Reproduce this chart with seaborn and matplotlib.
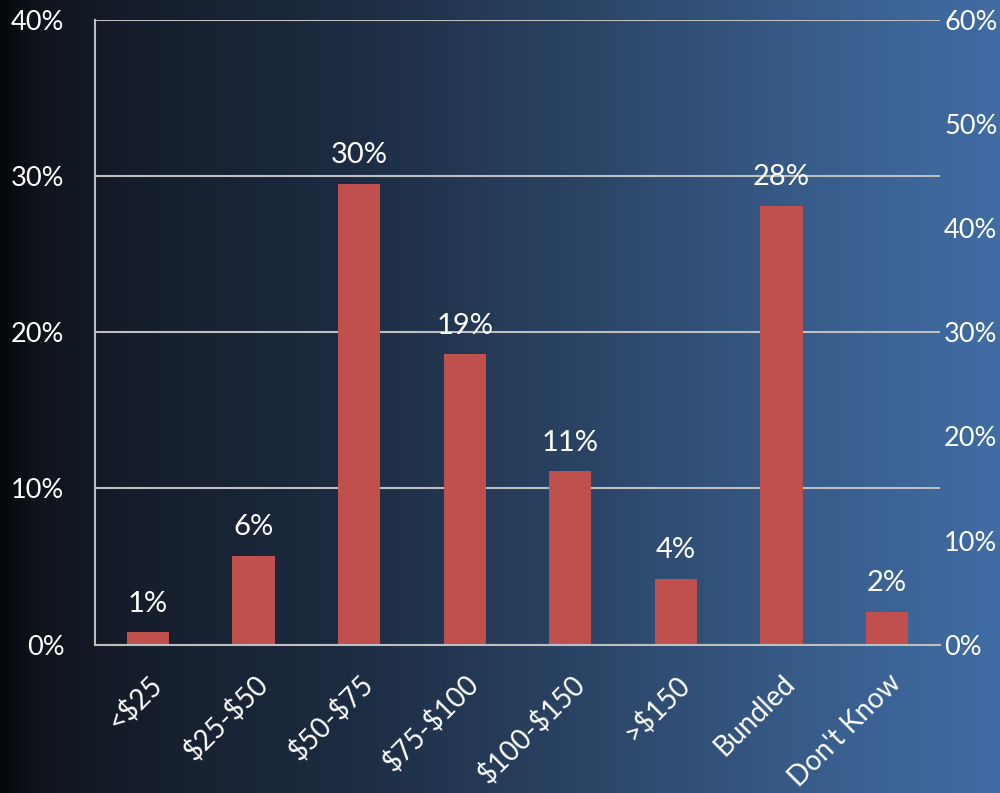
import numpy as np
import pandas as pd
import matplotlib
matplotlib.use("Agg")
import matplotlib.pyplot as plt
from matplotlib.colors import LinearSegmentedColormap
import seaborn as sns

# Monthly price brackets and share of respondents (%)
categories = ["<$25", "$25-$50", "$50-$75", "$75-$100", "$100-$150", ">$150", "Bundled", "Don't Know"]
shares = [0.8, 5.7, 29.5, 18.6, 11.1, 4.2, 28.1, 2.1]
left_ticks = [0, 10, 20, 30, 40]
right_ticks = [0, 10, 20, 30, 40, 50, 60]

df = pd.DataFrame({"category": categories, "share": shares})

sns.set_theme(style="white")
plt.rcParams["font.family"] = ["Lato", "DejaVu Sans"]

fig = plt.figure(figsize=(10, 7.93), dpi=100)

# Horizontal gradient backdrop: near-black on the left to steel blue on the right
bg = fig.add_axes([0, 0, 1, 1], zorder=-10)
bg_cmap = LinearSegmentedColormap.from_list(
    "bg",
    [(0.0, "#04080b"), (0.03, "#0e131b"), (0.10, "#141b27"),
     (0.35, "#1d2c42"), (0.60, "#2c4668"), (0.85, "#3a6090"), (1.0, "#416ca4")],
)
grad = np.linspace(0, 1, 512)[None, :]
bg.imshow(grad, aspect="auto", cmap=bg_cmap, extent=[0, 1, 0, 1])
bg.set_axis_off()

ax = fig.add_axes([0.095, 0.187, 0.845, 0.788])
ax.patch.set_alpha(0)

sns.barplot(data=df, x="category", y="share", color="#c0504d", saturation=1,
            width=0.4, linewidth=0, ax=ax)

ax.set_ylim(0, 40)
ax.set_xlim(-0.5, len(categories) - 0.5)
ax.set_yticks(left_ticks)
ax.set_yticklabels([f"{t}%" for t in left_ticks])
ax.yaxis.grid(True, color="#bfbfbf", linewidth=1.5)
ax.set_axisbelow(True)
ax.set_xlabel("")
ax.set_ylabel("")

for side in ["top", "right"]:
    ax.spines[side].set_visible(False)
for side in ["left", "bottom"]:
    ax.spines[side].set_color("#bfbfbf")
    ax.spines[side].set_linewidth(1.5)

ax.tick_params(axis="y", length=0, pad=22, labelsize=19.5, labelcolor="white")
ax.tick_params(axis="x", length=0, pad=18, labelsize=20, labelcolor="white")
for lbl in ax.get_xticklabels():
    lbl.set_parse_math(False)
    lbl.set_rotation(45)
    lbl.set_ha("right")
    lbl.set_rotation_mode("anchor")

# Value labels above each bar
for i, v in enumerate(shares):
    ax.text(i, v + 1.0, f"{v:.0f}%", ha="center", va="bottom",
            color="white", fontsize=21)

# Secondary scale on the right
ax2 = ax.twinx()
ax2.set_ylim(0, 60)
ax2.set_yticks(right_ticks)
ax2.set_yticklabels([f"{t}%" for t in right_ticks])
ax2.tick_params(axis="y", length=0, pad=3, labelsize=19.5, labelcolor="white")
for side in ["top", "right", "left", "bottom"]:
    ax2.spines[side].set_visible(False)
ax2.grid(False)
ax2.patch.set_alpha(0)

fig.savefig("out.png", dpi=100)
